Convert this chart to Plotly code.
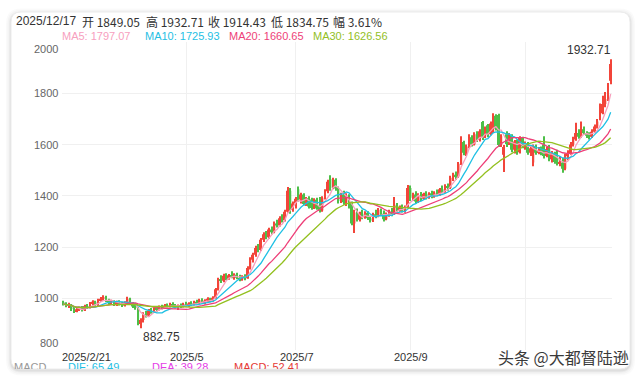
import plotly.graph_objects as go
import pandas as pd

W, H = 640, 379

# ---------------- data ----------------
opens = [
    985, 978, 970, 976, 958, 950, 957, 963, 953, 970,
    962, 980, 986, 974, 992, 998, 1004, 990, 982, 988,
    976, 985, 978, 972, 984, 998, 980, 968, 962, 900,
    915, 938, 932, 952, 946, 960, 955, 968, 960, 972,
    968, 976, 970, 966, 970, 966, 978, 972, 980, 974,
    986, 980, 992, 984, 990, 998, 988, 1002, 1035, 1072,
    1068, 1088, 1076, 1090, 1084, 1092, 1080, 1072, 1086, 1078,
    1118, 1150, 1170, 1196, 1188, 1228, 1250, 1238, 1268, 1258,
    1292, 1284, 1312, 1304, 1338, 1420, 1345, 1370, 1425, 1385,
    1405, 1368, 1390, 1385, 1352, 1384, 1360, 1342, 1392, 1418,
    1465, 1430, 1462, 1428, 1380, 1405, 1375, 1402, 1375, 1292,
    1335, 1306, 1330, 1315, 1334, 1312, 1302, 1328, 1320, 1345,
    1330, 1308, 1326, 1338, 1328, 1365, 1342, 1356, 1340, 1355,
    1430, 1392, 1405, 1378, 1402, 1388, 1408, 1392, 1410, 1396,
    1412, 1405, 1425, 1418, 1438, 1430, 1470, 1482, 1475, 1525,
    1610, 1568, 1592, 1628, 1600, 1640, 1618, 1688, 1630, 1675,
    1640, 1650, 1712, 1715, 1598, 1560, 1640, 1602, 1636, 1580,
    1612, 1570, 1625, 1592, 1605, 1568, 1530, 1592, 1568, 1588,
    1600, 1555, 1582, 1542, 1568, 1545, 1525, 1530, 1505, 1555,
    1565, 1600, 1620, 1645, 1630, 1660, 1645, 1634, 1630, 1650,
    1670, 1700, 1722, 1758, 1778, 1849.05,
]
highs = [
    990, 984, 982, 978, 966, 962, 968, 970, 975, 978,
    985, 992, 990, 998, 1005, 1012, 1010, 998, 994, 992,
    990, 992, 986, 988, 1006, 1002, 985, 975, 966, 922,
    945, 950, 958, 962, 965, 968, 972, 975, 978, 980,
    982, 984, 978, 976, 980, 982, 986, 984, 988, 990,
    994, 998, 1000, 996, 1004, 1002, 1008, 1040, 1080, 1090,
    1096, 1098, 1095, 1105, 1098, 1100, 1092, 1090, 1094, 1125,
    1160, 1178, 1205, 1212, 1235, 1258, 1262, 1275, 1280, 1300,
    1306, 1320, 1328, 1345, 1434, 1430, 1378, 1395, 1436, 1412,
    1410, 1395, 1398, 1392, 1390, 1392, 1395, 1398, 1425, 1462,
    1480, 1470, 1468, 1436, 1412, 1420, 1410, 1406, 1378, 1345,
    1350, 1338, 1345, 1340, 1340, 1322, 1334, 1345, 1352, 1350,
    1342, 1335, 1345, 1352, 1395, 1372, 1362, 1366, 1362, 1442,
    1440, 1412, 1418, 1410, 1415, 1412, 1418, 1414, 1420, 1418,
    1424, 1430, 1440, 1445, 1448, 1478, 1490, 1495, 1532, 1632,
    1615, 1600, 1640, 1636, 1648, 1652, 1660, 1692, 1670, 1680,
    1690, 1722, 1718, 1720, 1640, 1598, 1652, 1645, 1640, 1618,
    1620, 1632, 1630, 1612, 1610, 1592, 1600, 1600, 1590, 1592,
    1632, 1590, 1598, 1575, 1572, 1580, 1555, 1548, 1565, 1578,
    1610, 1630, 1685, 1660, 1690, 1670, 1652, 1648, 1660, 1678,
    1700, 1760, 1790, 1805, 1840, 1932.71,
]
lows = [
    972, 965, 962, 950, 942, 945, 950, 948, 950, 958,
    960, 972, 968, 970, 985, 990, 985, 975, 978, 970,
    970, 972, 966, 968, 980, 975, 962, 955, 895, 882.75,
    905, 925, 928, 940, 942, 948, 952, 956, 958, 962,
    964, 966, 960, 954, 962, 964, 968, 966, 970, 972,
    976, 978, 980, 976, 984, 984, 986, 998, 1030, 1060,
    1062, 1070, 1072, 1078, 1072, 1074, 1066, 1068, 1070, 1076,
    1112, 1140, 1162, 1180, 1184, 1220, 1230, 1232, 1250, 1254,
    1276, 1280, 1296, 1300, 1334, 1330, 1338, 1350, 1378, 1370,
    1362, 1360, 1350, 1345, 1348, 1345, 1335, 1338, 1385, 1410,
    1420, 1425, 1420, 1370, 1372, 1365, 1360, 1350, 1285, 1255,
    1300, 1300, 1308, 1310, 1305, 1296, 1298, 1312, 1316, 1322,
    1300, 1304, 1318, 1320, 1325, 1335, 1338, 1335, 1334, 1352,
    1380, 1380, 1370, 1372, 1380, 1384, 1385, 1388, 1390, 1392,
    1398, 1400, 1410, 1412, 1420, 1426, 1458, 1462, 1470, 1520,
    1558, 1555, 1585, 1592, 1596, 1610, 1612, 1618, 1625, 1628,
    1636, 1645, 1655, 1590, 1590, 1493, 1590, 1598, 1570, 1565,
    1560, 1565, 1585, 1580, 1560, 1555, 1515, 1560, 1562, 1558,
    1545, 1550, 1535, 1530, 1525, 1518, 1515, 1490, 1500, 1540,
    1560, 1592, 1615, 1622, 1626, 1638, 1625, 1620, 1625, 1645,
    1662, 1695, 1718, 1745, 1770, 1834.75,
]
closes = [
    978, 970, 976, 958, 950, 957, 963, 953, 970, 962,
    980, 986, 974, 992, 998, 1004, 990, 982, 988, 976,
    985, 978, 972, 984, 998, 980, 968, 962, 902, 915,
    938, 932, 952, 946, 960, 955, 968, 960, 972, 968,
    976, 970, 966, 970, 966, 978, 972, 980, 974, 986,
    980, 992, 984, 990, 998, 988, 1002, 1035, 1072, 1068,
    1088, 1076, 1090, 1084, 1092, 1080, 1072, 1086, 1078, 1118,
    1150, 1170, 1196, 1188, 1228, 1250, 1238, 1268, 1258, 1292,
    1284, 1312, 1304, 1338, 1420, 1345, 1370, 1388, 1385, 1405,
    1368, 1390, 1358, 1352, 1384, 1350, 1342, 1392, 1418, 1455,
    1430, 1462, 1428, 1380, 1405, 1375, 1402, 1358, 1292, 1335,
    1306, 1330, 1315, 1334, 1312, 1302, 1328, 1320, 1345, 1330,
    1308, 1326, 1338, 1328, 1365, 1342, 1356, 1340, 1355, 1430,
    1392, 1405, 1378, 1402, 1388, 1408, 1392, 1410, 1396, 1412,
    1405, 1425, 1418, 1438, 1430, 1470, 1482, 1475, 1525, 1610,
    1568, 1592, 1628, 1600, 1640, 1618, 1652, 1630, 1662, 1640,
    1682, 1705, 1662, 1598, 1632, 1590, 1602, 1636, 1580, 1612,
    1570, 1625, 1592, 1605, 1568, 1585, 1575, 1568, 1571, 1565,
    1555, 1582, 1542, 1568, 1532, 1525, 1530, 1505, 1555, 1565,
    1600, 1620, 1645, 1630, 1660, 1645, 1634, 1630, 1650, 1670,
    1690, 1722, 1758, 1778, 1813, 1914.43,
]

# x axis: candle index of the first trading day of each labelled month
x_tick_index = [0, 46, 87, 130, 173]
x_tick_labels = ["2025/2/21", "2025/5", "2025/7", "2025/9", ""]
y_ticks = [800, 1000, 1200, 1400, 1600, 1800, 2000]

ma_periods = [5, 10, 20, 30]
ma_names = ["MA5", "MA10", "MA20", "MA30"]
ma_last_values = ["1797.07", "1725.93", "1660.65", "1626.56"]

header_date = "2025/12/17"
header_items = [("开", "1849.05"), ("高", "1932.71"), ("收", "1914.43"),
                ("低", "1834.75"), ("幅", "3.61%")]
max_label = "1932.71"
min_label = "882.75"
macd_items = [("MACD", ""), ("DIF", "65.49"), ("DEA", "39.28"), ("MACD", "52.41")]
watermark = "头条 @大都督陆逊"

# ---------------- styles ----------------
RED = "#f2453a"
GREEN = "#4dbf48"
MA_COLORS = ["#f7a0be", "#1fc0e4", "#ee3f78", "#93c01f"]
MACD_COLORS = ["#999999", "#1fc0e4", "#e43ee6", "#e53935"]
FONT = "Liberation Sans, Arial, Noto Sans CJK SC, sans-serif"
CJK = "Noto Sans CJK SC, Liberation Sans, sans-serif"

PL, PR, PT, PB = 62, 612, 42, 349.5   # plot box in pixels
BODY_W, WICK_W = 0.74, 0.38           # in candle slots


def fx(px):
    return px / W


def fy(py):
    return 1 - py / H


n = len(closes)
idx = list(range(n))
close_s = pd.Series(closes, dtype=float)

colors = [RED if c >= o else GREEN for o, c in zip(opens, closes)]
body_base = [min(o, c) for o, c in zip(opens, closes)]
body_len = [max(abs(c - o), 2.5) for o, c in zip(opens, closes)]
wick_len = [h - l for h, l in zip(highs, lows)]

fig = go.Figure()
# wicks
fig.add_trace(go.Bar(x=idx, y=wick_len, base=lows, width=WICK_W,
                     marker=dict(color=colors, line=dict(width=0)),
                     showlegend=False, hoverinfo="skip"))
# bodies
fig.add_trace(go.Bar(x=idx, y=body_len, base=body_base, width=BODY_W,
                     marker=dict(color=colors, line=dict(width=0)),
                     showlegend=False, hoverinfo="skip"))
for p, c in zip(ma_periods, MA_COLORS):
    ma = close_s.rolling(p, min_periods=1).mean()
    fig.add_trace(go.Scatter(x=idx, y=ma, mode="lines",
                             line=dict(color=c, width=1.3),
                             showlegend=False, hoverinfo="skip"))

# MACD legend row, clipped by the card's lower edge
CARD_B = 369
macd_x = [14, 68, 152, 234]
for (name, val), xpos, col in zip(macd_items, macd_x, MACD_COLORS):
    txt = name if not val else f"{name}: {val}"
    fig.add_trace(go.Scatter(
        x=[xpos], y=[CARD_B - 368.5], mode="text", text=[txt],
        textposition="middle right", textfont=dict(family=FONT, size=11, color=col),
        xaxis="x2", yaxis="y2", cliponaxis=True, showlegend=False, hoverinfo="skip"))

annotations = []
# y tick labels
for v in y_ticks:
    shift = 0
    if v == y_ticks[-1]:
        shift = -6.5
    elif v == y_ticks[0]:
        shift = 6.5
    annotations.append(dict(x=fx(60), y=v, xref="paper", yref="y", text=str(v),
                            xanchor="right", yanchor="middle", showarrow=False, yshift=shift,
                            font=dict(family=FONT, size=11, color="#666666")))
# x tick labels
for i, (ti, tl) in enumerate(zip(x_tick_index, x_tick_labels)):
    if not tl:
        continue
    if i == 0:
        annotations.append(dict(x=-0.5, y=fy(357), xref="x", yref="paper", text=tl,
                                xanchor="left", yanchor="middle", showarrow=False, xshift=-2,
                                font=dict(family=FONT, size=11, color="#333333")))
    else:
        annotations.append(dict(x=ti, y=fy(357), xref="x", yref="paper", text=tl,
                                xanchor="center", yanchor="middle", showarrow=False, xshift=1,
                                font=dict(family=FONT, size=11, color="#333333")))
# header line
annotations.append(dict(x=fx(14), y=fy(21), xref="paper", yref="paper", text=header_date,
                        xanchor="left", yanchor="middle", showarrow=False,
                        font=dict(family=FONT, size=12, color="#333333")))
for (lab, val), xpos in zip(header_items, [80, 144, 206, 269, 331]):
    annotations.append(dict(x=fx(xpos), y=fy(21), xref="paper", yref="paper",
                            text=f"{lab} {val}", xanchor="left", yanchor="middle",
                            showarrow=False, font=dict(family=CJK, size=12, color="#333333")))
# MA legend row
for name, val, col, xpos in zip(ma_names, ma_last_values, MA_COLORS, [60, 143, 227, 311]):
    annotations.append(dict(x=fx(xpos), y=fy(36), xref="paper", yref="paper",
                            text=f"{name}: {val}", xanchor="left", yanchor="middle",
                            showarrow=False, font=dict(family=FONT, size=11, color=col)))
# max / min labels
imax = max(range(n), key=lambda i: highs[i])
imin = min(range(n), key=lambda i: lows[i])
annotations.append(dict(x=imax, y=highs[imax], xref="x", yref="y", text=max_label,
                        xanchor="right", yanchor="bottom", showarrow=False, xshift=2,
                        font=dict(family=FONT, size=12, color="#333333")))
annotations.append(dict(x=imin, y=lows[imin], xref="x", yref="y", text=min_label,
                        xanchor="left", yanchor="top", showarrow=False, xshift=0,
                        font=dict(family=FONT, size=12, color="#333333")))
# watermark
annotations.append(dict(x=fx(563), y=fy(357), xref="paper", yref="paper", text=watermark,
                        xanchor="center", yanchor="middle", showarrow=False,
                        font=dict(family=CJK, size=16, color="#3a3a3a",
                                  shadow="1px 1px 1px #ffffff, -1px -1px 1px #ffffff")))


def rounded(x0, y0, x1, y1, r):
    X0, X1 = fx(x0), fx(x1)
    Y0, Y1 = fy(y0), fy(y1)
    rx, ry = r / W, r / H
    return (f"M {X0+rx},{Y0} L {X1-rx},{Y0} Q {X1},{Y0} {X1},{Y0-ry} "
            f"L {X1},{Y1+ry} Q {X1},{Y1} {X1-rx},{Y1} L {X0+rx},{Y1} "
            f"Q {X0},{Y1} {X0},{Y1+ry} L {X0},{Y0-ry} Q {X0},{Y0} {X0+rx},{Y0} Z")


shapes = []
for k, a in [(5, 0.018), (3.5, 0.025), (2, 0.035), (1, 0.05)]:
    shapes.append(dict(type="path", xref="paper", yref="paper", layer="below",
                       path=rounded(11 - k, 12 - k + 1.5, 630 + k, CARD_B + k + 1.5, 10 + k),
                       fillcolor=f"rgba(0,0,0,{a})", line=dict(width=0)))
shapes.append(dict(type="path", xref="paper", yref="paper", layer="below",
                   path=rounded(11, 12, 630, CARD_B, 10),
                   fillcolor="#ffffff", line=dict(color="#ececec", width=1)))

fig.update_layout(
    width=W, height=H, margin=dict(l=0, r=0, t=0, b=0, autoexpand=False),
    paper_bgcolor="#ffffff", plot_bgcolor="rgba(0,0,0,0)",
    showlegend=False, hovermode=False, barmode="overlay",
    xaxis=dict(domain=[fx(PL), fx(PR)], range=[-0.5, n - 0.5], tickvals=x_tick_index[1:],
               showticklabels=False, showgrid=True, gridcolor="#f0f0f0", gridwidth=1,
               zeroline=False, fixedrange=True, showline=False, ticks=""),
    yaxis=dict(domain=[fy(PB), fy(PT)], range=[800, 2000], tickvals=y_ticks,
               showticklabels=False, showgrid=True, gridcolor="#f0f0f0", gridwidth=1,
               zeroline=False, fixedrange=True, ticks=""),
    xaxis2=dict(domain=[0, 1], range=[0, W], visible=False, anchor="y2", fixedrange=True),
    yaxis2=dict(domain=[fy(CARD_B), fy(CARD_B - 12)], range=[0, 12], visible=False,
                anchor="x2", fixedrange=True),
    annotations=annotations, shapes=shapes,
)

fig.write_html(
    "out.html",
    config={"displayModeBar": False},
    post_script="document.body.style.margin='0';document.body.style.overflow='hidden';",
)
